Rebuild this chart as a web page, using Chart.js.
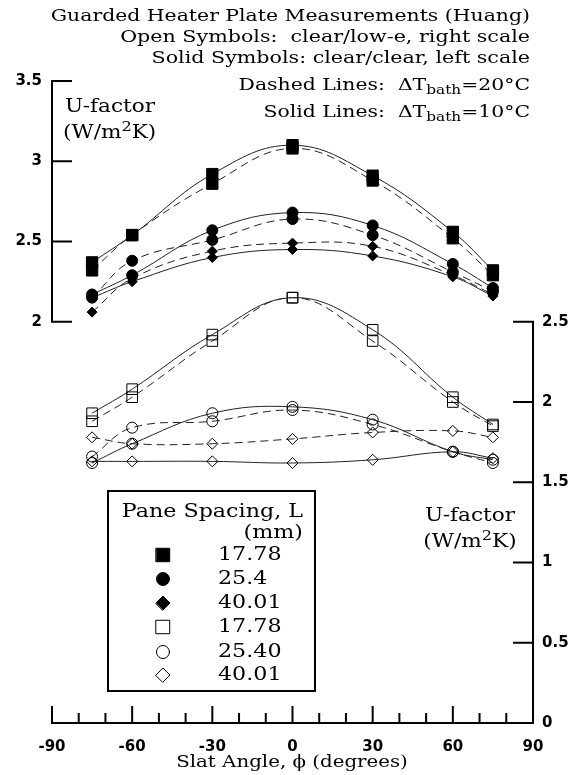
<!DOCTYPE html>
<html>
<head>
<meta charset="utf-8">
<script src="https://cdn.jsdelivr.net/npm/chart.js@4"></script>
<style>
  html, body { margin: 0; padding: 0; background: #fff; }
</style>
</head>
<body>
<canvas id="uChart" width="579" height="775"></canvas>
<script>
// slat angles (degrees)
const angles = [-75, -60, -30, 0, 30, 60, 75];

// Solid symbols: clear/clear, left scale (10C = solid line, 20C = dashed line)
const sq10 = [2.37, 2.54, 2.92, 3.10, 2.91, 2.56, 2.32];
const sq20 = [2.32, 2.54, 2.86, 3.08, 2.88, 2.52, 2.29];
const ci10 = [2.17, 2.29, 2.57, 2.68, 2.60, 2.36, 2.21];
const ci20 = [2.15, 2.38, 2.51, 2.64, 2.54, 2.31, 2.19];
const di10 = [2.15, 2.25, 2.40, 2.45, 2.41, 2.28, 2.16];
const di20 = [2.06, 2.27, 2.44, 2.49, 2.47, 2.29, 2.17];

// Open symbols: clear/low-e, right scale
const osq10 = [1.93, 2.08, 2.42, 2.65, 2.45, 2.03, 1.86];
const osq20 = [1.88, 2.03, 2.38, 2.65, 2.38, 2.00, 1.85];
const oci10 = [1.62, 1.74, 1.93, 1.97, 1.89, 1.69, 1.64];
const oci20 = [1.66, 1.84, 1.88, 1.95, 1.86, 1.69, 1.62];
const odi10 = [1.63, 1.63, 1.63, 1.62, 1.64, 1.69, 1.65];
const odi20 = [1.78, 1.74, 1.74, 1.77, 1.81, 1.82, 1.78];

// ticks
const xMajor = [-90, -60, -30, 0, 30, 60, 90];
const xMinor = [-80, -70, -50, -40, -20, -10, 10, 20, 40, 50, 70, 80];
const leftTicks = [2, 2.5, 3, 3.5];
const rightTicks = [0, 0.5, 1, 1.5, 2, 2.5];

// legend
const legendLabels = ['17.78', '25.4', '40.01', '17.78', '25.40', '40.01'];
const legendStyles = ['rect', 'circle', 'rectRot', 'rect', 'circle', 'rectRot'];
const legendFilled = [true, true, true, false, false, false];

const SERIF = "'DejaVu Serif', serif";
const SANS = "'DejaVu Sans', sans-serif";
const SX = 1.2; // the scanned figure is stretched sideways

function series(data, axis, style, radius, filled, dashed) {
  return {
    data: angles.map((a, i) => ({ x: a, y: data[i] })),
    yAxisID: axis,
    borderColor: '#222',
    borderWidth: 1,
    borderDash: dashed ? [8, 5] : [],
    tension: 0.4,
    fill: false,
    pointStyle: style,
    pointRadius: radius,
    pointHoverRadius: radius,
    pointBackgroundColor: filled ? '#000' : 'rgba(0,0,0,0)',
    pointBorderColor: '#000',
    pointBorderWidth: 1
  };
}

// text with sub/superscript pieces, squeezed sideways by sx
function rich(ctx, parts, x, y, align, size, sx, weight) {
  ctx.save();
  const fonts = parts.map(p => (weight || '') + ' ' + (p.sub || p.sup ? size * 0.75 : size) + 'px ' + (p.family || SERIF));
  const widths = parts.map((p, i) => { ctx.font = fonts[i]; return ctx.measureText(p.t).width; });
  const total = widths.reduce((a, b) => a + b, 0) * sx;
  let start = x;
  if (align === 'right') start = x - total;
  if (align === 'center') start = x - total / 2;
  ctx.translate(start, y);
  ctx.scale(sx, 1);
  ctx.textBaseline = 'middle';
  ctx.textAlign = 'left';
  ctx.fillStyle = '#000';
  let cx = 0;
  parts.forEach((p, i) => {
    ctx.font = fonts[i];
    let dy = 0;
    if (p.sub) dy = size * 0.3;
    if (p.sup) dy = -size * 0.3;
    ctx.fillText(p.t, cx, dy);
    cx += widths[i];
  });
  ctx.restore();
}

const overlay = {
  id: 'overlay',
  afterDraw(chart) {
    const ctx = chart.ctx;
    const xs = chart.scales.x, yl = chart.scales.yL, yr = chart.scales.yR;
    const bottom = chart.chartArea.bottom;
    ctx.save();
    ctx.strokeStyle = '#000';
    ctx.lineWidth = 2;
    ctx.lineCap = 'square';

    // bottom axis
    ctx.beginPath();
    ctx.moveTo(xs.getPixelForValue(-90), bottom);
    ctx.lineTo(xs.getPixelForValue(90), bottom);
    xMajor.forEach(v => {
      const px = xs.getPixelForValue(v);
      ctx.moveTo(px, bottom); ctx.lineTo(px, bottom - 16);
    });
    xMinor.forEach(v => {
      const px = xs.getPixelForValue(v);
      ctx.moveTo(px, bottom); ctx.lineTo(px, bottom - 9);
    });
    // left axis (2 .. 3.5)
    const lx = xs.getPixelForValue(-90);
    ctx.moveTo(lx, yl.getPixelForValue(2));
    ctx.lineTo(lx, yl.getPixelForValue(3.5));
    leftTicks.forEach(v => {
      const py = yl.getPixelForValue(v);
      ctx.moveTo(lx, py); ctx.lineTo(lx + 19, py);
    });
    // right axis (0 .. 2.5)
    const rx = xs.getPixelForValue(90);
    ctx.moveTo(rx, yr.getPixelForValue(0));
    ctx.lineTo(rx, yr.getPixelForValue(2.5));
    rightTicks.forEach(v => {
      if (v === 0) return;
      const py = yr.getPixelForValue(v);
      ctx.moveTo(rx, py); ctx.lineTo(rx - 19, py);
    });
    ctx.stroke();

    // tick labels
    ctx.fillStyle = '#000';
    ctx.font = 'bold 15px ' + SANS;
    ctx.textBaseline = 'middle';
    ctx.textAlign = 'center';
    xMajor.forEach(v => ctx.fillText(String(v), xs.getPixelForValue(v), bottom + 24));
    ctx.textAlign = 'right';
    leftTicks.forEach(v => ctx.fillText(String(v), lx - 10, yl.getPixelForValue(v)));
    ctx.textAlign = 'left';
    rightTicks.forEach(v => ctx.fillText(String(v), rx + 9, yr.getPixelForValue(v)));

    // axis titles
    rich(ctx, [{ t: 'Slat Angle, ϕ (degrees)' }], 292, 763, 'center', 16.5, SX);
    rich(ctx, [{ t: 'U-factor' }], 65, 107, 'left', 18, SX);
    rich(ctx, [{ t: '(W/m' }, { t: '2', sup: true }, { t: 'K)' }], 63, 133, 'left', 18, SX);
    rich(ctx, [{ t: 'U-factor' }], 470, 516, 'center', 18, SX);
    rich(ctx, [{ t: '(W/m' }, { t: '2', sup: true }, { t: 'K)' }], 470, 542, 'center', 18, SX);

    // header notes
    rich(ctx, [{ t: 'Guarded Heater Plate Measurements (Huang)' }], 530, 17, 'right', 17, SX);
    rich(ctx, [{ t: 'Open Symbols:  clear/low-e, right scale' }], 530, 38, 'right', 17.2, SX);
    rich(ctx, [{ t: 'Solid Symbols: clear/clear, left scale' }], 530, 59, 'right', 17.2, SX);
    rich(ctx, [{ t: 'Dashed Lines:  ΔT' }, { t: 'bath', sub: true }, { t: '=20°C' }], 530, 86, 'right', 17, SX);
    rich(ctx, [{ t: 'Solid Lines:  ΔT' }, { t: 'bath', sub: true }, { t: '=10°C' }], 530, 113, 'right', 17, SX);

    // legend box
    ctx.fillStyle = '#fff';
    ctx.fillRect(108, 491, 207, 200);
    ctx.lineWidth = 2;
    ctx.strokeRect(108, 491, 207, 200);
    rich(ctx, [{ t: 'Pane Spacing, L' }], 303, 512, 'right', 18.5, SX);
    rich(ctx, [{ t: '(mm)' }], 303, 533, 'right', 18.5, SX);
    const rowY = [555, 579, 603, 627, 652, 675];
    legendLabels.forEach((lab, i) => {
      ctx.fillStyle = legendFilled[i] ? '#000' : '#fff';
      ctx.strokeStyle = '#000';
      ctx.lineWidth = 1;
      const r = legendStyles[i] === 'rect' ? 9.5 : legendStyles[i] === 'circle' ? 6.5 : 7;
      Chart.helpers.drawPoint(ctx, { pointStyle: legendStyles[i], radius: r, rotation: 0, borderWidth: 1 }, 163, rowY[i]);
      rich(ctx, [{ t: lab }], 218, rowY[i], 'left', 18.5, SX);
    });
    ctx.restore();
  }
};

new Chart(document.getElementById('uChart').getContext('2d'), {
  type: 'line',
  data: {
    datasets: [
      series(sq10, 'yL', 'rect', 8, true, false),
      series(sq20, 'yL', 'rect', 8, true, true),
      series(ci10, 'yL', 'circle', 5.5, true, false),
      series(ci20, 'yL', 'circle', 5.5, true, true),
      series(di10, 'yL', 'rectRot', 5, true, false),
      series(di20, 'yL', 'rectRot', 5, true, true),
      series(osq10, 'yR', 'rect', 7.5, false, false),
      series(osq20, 'yR', 'rect', 7.5, false, true),
      series(oci10, 'yR', 'circle', 5.5, false, false),
      series(oci20, 'yR', 'circle', 5.5, false, true),
      series(odi10, 'yR', 'rectRot', 5.5, false, false),
      series(odi20, 'yR', 'rectRot', 5.5, false, true)
    ]
  },
  options: {
    responsive: false,
    animation: false,
    devicePixelRatio: 1,
    layout: { padding: { left: 52, right: 46, top: 81, bottom: 52 } },
    scales: {
      x: { type: 'linear', min: -90, max: 90, display: false },
      yL: { type: 'linear', position: 'left', min: -0.5, max: 3.5, display: false },
      yR: { type: 'linear', position: 'right', min: 0, max: 4, display: false }
    },
    plugins: {
      legend: { display: false },
      tooltip: { enabled: false }
    }
  },
  plugins: [overlay]
});
</script>
</body>
</html>
